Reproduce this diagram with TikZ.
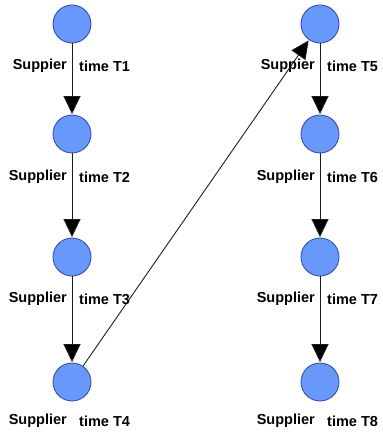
\documentclass[tikz,border=0pt]{standalone}
\usepackage{fontspec}
\setmainfont{Liberation Sans}
\usetikzlibrary{arrows.meta}
\definecolor{cfill}{RGB}{104,152,250}
\definecolor{cdraw}{RGB}{58,78,170}
\definecolor{cline}{RGB}{30,30,30}
\tikzset{
  state/.style={circle, fill=cfill, draw=cdraw, line width=0.9pt, minimum size=38pt, inner sep=0pt},
  lbl/.style={font=\bfseries\fontsize{14.5}{17}\selectfont, inner sep=0pt, text=black},
  conn/.style={draw=cline, line width=0.9pt, -{Triangle[width=17pt,length=18pt,fill=black]}, shorten >=0.5pt}
}
\begin{document}
\begin{tikzpicture}[x=1pt,y=-1pt]
\useasboundingbox (0,0) rectangle (382,435);
\node[state] (t1) at (72,24) {};
\node[state] (t2) at (72,134) {};
\node[state] (t3) at (72,257) {};
\node[state] (t4) at (72,382) {};
\node[state] (t5) at (320,24) {};
\node[state] (t6) at (320,134) {};
\node[state] (t7) at (320,257) {};
\node[state] (t8) at (320,382) {};
\draw[conn] (t1) -- (t2);
\draw[conn] (t2) -- (t3);
\draw[conn] (t3) -- (t4);
\draw[conn] (t4) -- (t5);
\draw[conn] (t5) -- (t6);
\draw[conn] (t6) -- (t7);
\draw[conn] (t7) -- (t8);
\node[lbl,anchor=east] (l1a) at (67,66) {Suppier};
\node[lbl,anchor=west] (l1b) at (79,66) {time T1};
\node[lbl,anchor=east] (l2a) at (67,177) {Supplier};
\node[lbl,anchor=west] (l2b) at (79,177) {time T2};
\node[lbl,anchor=east] (l3a) at (67,299) {Supplier};
\node[lbl,anchor=west] (l3b) at (79,299) {time T3};
\node[lbl,anchor=east] (l4a) at (67,421) {Supplier};
\node[lbl,anchor=west] (l4b) at (79,421) {time T4};
\node[lbl,anchor=east] (l5a) at (315,66) {Suppier};
\node[lbl,anchor=west] (l5b) at (327,66) {time T5};
\node[lbl,anchor=east] (l6a) at (315,177) {Supplier};
\node[lbl,anchor=west] (l6b) at (327,177) {time T6};
\node[lbl,anchor=east] (l7a) at (315,299) {Supplier};
\node[lbl,anchor=west] (l7b) at (327,299) {time T7};
\node[lbl,anchor=east] (l8a) at (315,421) {Supplier};
\node[lbl,anchor=west] (l8b) at (327,421) {time T8};
\end{tikzpicture}
\end{document}
